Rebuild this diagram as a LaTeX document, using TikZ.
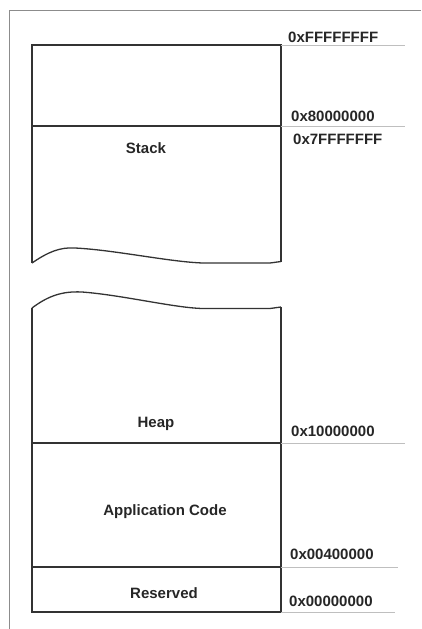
\documentclass[tikz,border=0pt]{standalone}
\usepackage{fontspec}
\setmainfont{Liberation Sans}
\begin{document}
\begin{tikzpicture}[x=1pt,y=-1pt,
  boxline/.style={draw=black!80,line width=1.3pt},
  guide/.style={draw=black!25,line width=0.9pt},
  frame/.style={draw=black!45,line width=0.9pt},
  addr/.style={font=\bfseries\fontsize{15}{16}\selectfont,anchor=west,inner sep=0pt,text=black!85},
  region/.style={font=\bfseries\fontsize{15}{16}\selectfont,inner sep=0pt,text=black!85}]
\useasboundingbox (0,0) rectangle (421,629);
% outer frame
\draw[frame] (9,629) -- (9,10) -- (421,10);
% coordinates
\coordinate (tl) at (32,45);
\coordinate (tr) at (281,45);
\coordinate (ml) at (32,126);
\coordinate (mr) at (281,126);
\coordinate (hl) at (32,443);
\coordinate (hr) at (281,443);
\coordinate (al) at (32,567);
\coordinate (ar) at (281,567);
\coordinate (bl) at (32,612);
\coordinate (br) at (281,612);
\coordinate (w1l) at (32,263);
\coordinate (w1r) at (281,261.5);
\coordinate (w2l) at (32,308);
\coordinate (w2r) at (281,307);
% upper block
\draw[boxline] (w1l) -- (tl) -- (tr) -- (w1r);
\draw[boxline] (ml) -- (mr);
\draw[boxline] (w1l) .. controls (48,252) and (60,247) .. (75,248)
  .. controls (115,250) and (170,262) .. (203,263) -- (270,263) -- (w1r);
% lower block
\draw[boxline] (w2l) .. controls (48,296) and (62,291) .. (82,292)
  .. controls (122,295) and (175,308) .. (203,308.5) -- (270,308.5) -- (w2r);
\draw[boxline] (w2l) -- (bl) -- (br) -- (w2r);
\draw[boxline] (hl) -- (hr);
\draw[boxline] (al) -- (ar);
% guide lines
\coordinate (g1) at (405,45);
\coordinate (g2) at (405,126);
\coordinate (g3) at (405,443);
\coordinate (g4) at (398,567);
\coordinate (g5) at (395,612);
\draw[guide] (tr) -- (g1);
\draw[guide] (mr) -- (g2);
\draw[guide] (hr) -- (g3);
\draw[guide] (ar) -- (g4);
\draw[guide] (br) -- (g5);
% addresses
\node[addr] (aF) at (288,37) {0xFFFFFFFF};
\node[addr] (a8) at (291,116) {0x80000000};
\node[addr] (a7) at (293,139) {0x7FFFFFFF};
\node[addr] (a1) at (291,431) {0x10000000};
\node[addr] (a4) at (290,554) {0x00400000};
\node[addr] (a0) at (289,601) {0x00000000};
% region names
\node[region] (stack) at (146,148) {Stack};
\node[region] (heap) at (156,424) {Heap};
\node[region] (app) at (165,512) {Application Code};
\node[region] (res) at (164,593) {Reserved};
\end{tikzpicture}
\end{document}
